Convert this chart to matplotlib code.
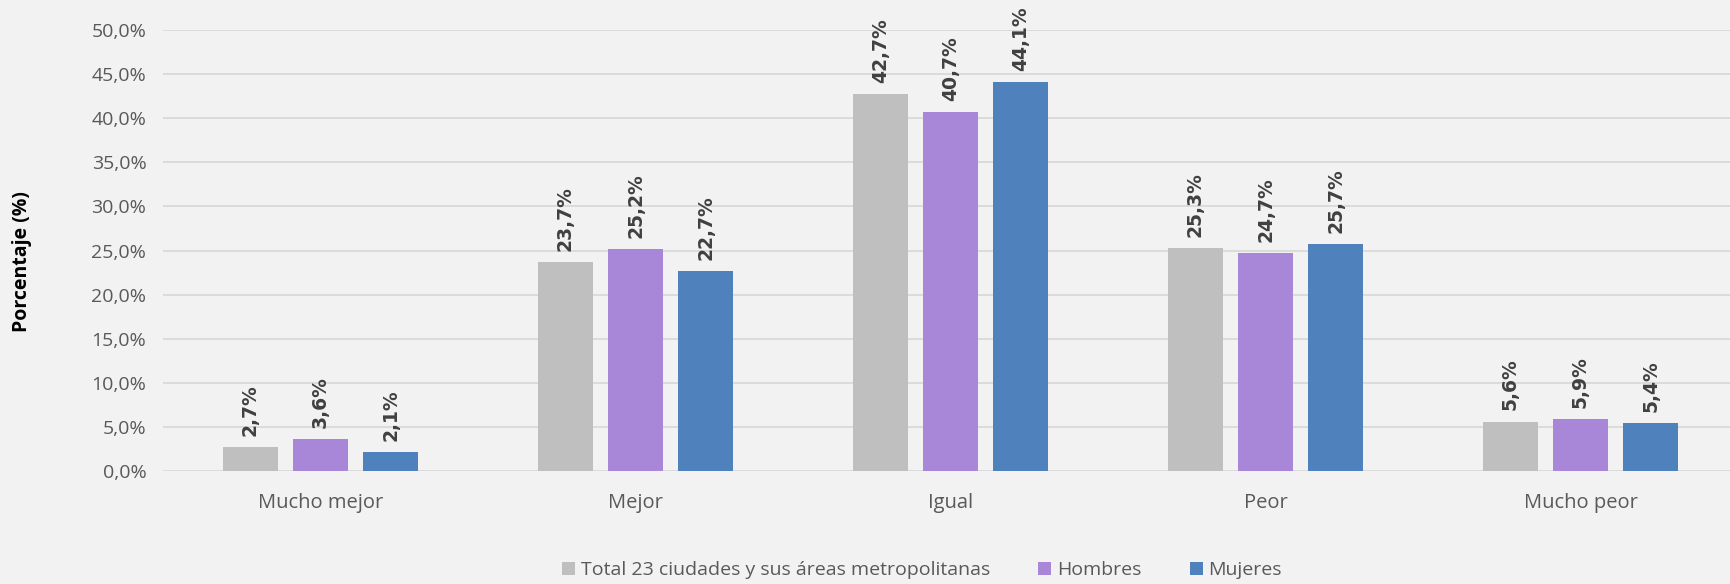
import numpy as np
import matplotlib.pyplot as plt

categorias = ['Mucho mejor', 'Mejor', 'Igual', 'Peor', 'Mucho peor']
total = [2.7, 23.7, 42.7, 25.3, 5.6]
hombres = [3.6, 25.2, 40.7, 24.7, 5.9]
mujeres = [2.1, 22.7, 44.1, 25.7, 5.4]
series = ['Total 23 ciudades y sus áreas metropolitanas', 'Hombres', 'Mujeres']
colores = ['#BFBFBF', '#A886D8', '#4F81BD']

plt.rcParams['font.family'] = ['Open Sans', 'DejaVu Sans']

fig = plt.figure(figsize=(17.31, 5.84), dpi=100, facecolor='#F2F2F2')
ax = fig.add_axes([163 / 1731, 1 - 471 / 584, (1738 - 163) / 1731, 441 / 584])
ax.set_facecolor('#F2F2F2')

x = np.arange(len(categorias))
w = 0.175
paso = 0.223
for i, (vals, nombre, c) in enumerate(zip([total, hombres, mujeres], series, colores)):
    pos = x + (i - 1) * paso
    bars = ax.bar(pos, vals, width=w, color=c, label=nombre, zorder=3)
    for b, v in zip(bars, vals):
        ax.annotate(f'{v:.1f}%'.replace('.', ','),
                    (b.get_x() + b.get_width() / 2, v),
                    xytext=(0, 8), textcoords='offset points',
                    rotation=90, ha='center', va='bottom', family='DejaVu Sans',
                    fontsize=13.5, fontweight='bold', color='#404040')

ax.set_xlim(-0.5, 4.5)
ax.set_ylim(0, 50)
ax.set_yticks(np.arange(0, 51, 5))
ax.set_yticklabels([f'{t:.1f}%'.replace('.', ',') for t in np.arange(0, 51, 5)])
ax.set_xticks(x)
ax.set_xticklabels(categorias)
ax.yaxis.grid(True, color='#D9D9D9', linewidth=1.3, zorder=0)
ax.set_axisbelow(True)
for s in ax.spines.values():
    s.set_visible(False)
ax.tick_params(axis='y', length=0, labelsize=14, colors='#595959', pad=12)
ax.tick_params(axis='x', length=0, labelsize=14.5, colors='#595959', pad=16)

fig.text(22 / 1731, 1 - 262 / 584, 'Porcentaje (%)', rotation=90, ha='center', va='center',
         fontsize=14, fontweight='bold', color='#000000')

fig.legend(loc='center', bbox_to_anchor=(922 / 1731, 1 - 570 / 584), ncol=3, frameon=False,
           fontsize=14, labelcolor='#595959', handlelength=0.65, handleheight=0.65,
           handletextpad=0.3, columnspacing=2.5)

fig.savefig('out.png', dpi=100, facecolor=fig.get_facecolor())
